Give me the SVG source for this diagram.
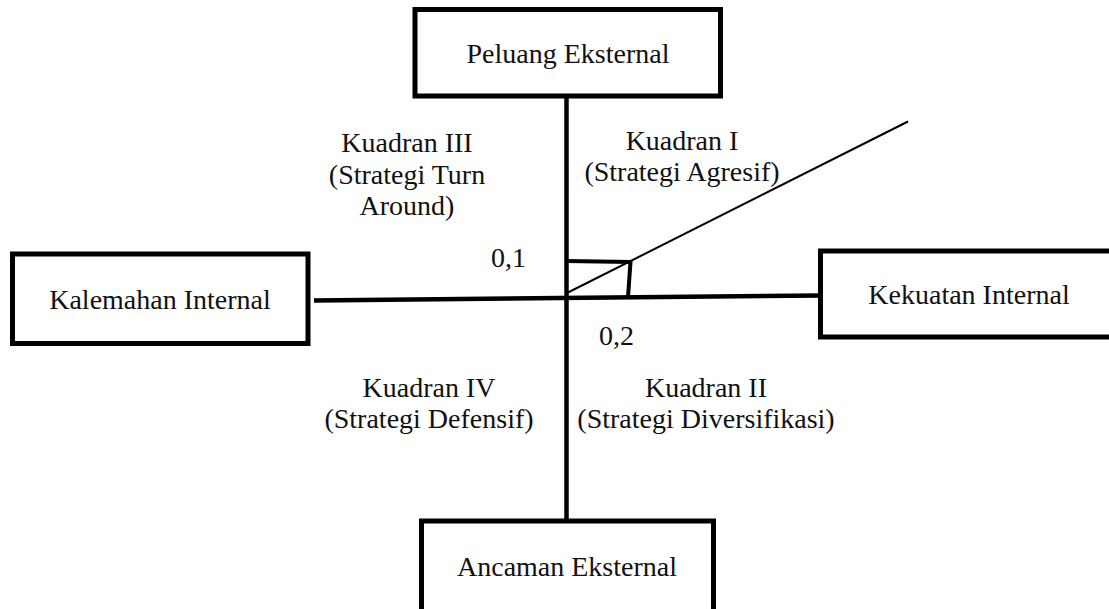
<svg xmlns="http://www.w3.org/2000/svg" width="1109" height="609" viewBox="0 0 1109 609">
  <style>
    .box { fill: #ffffff; stroke: #000000; stroke-width: 5; }
    .t { font-family: "Liberation Serif", "Times New Roman", serif; font-size: 28px; fill: #111111; text-anchor: middle; }
    .axis { stroke: #000000; stroke-width: 4.5; fill: none; }
    .thin { stroke: #000000; stroke-width: 2; fill: none; }
    .sq { stroke: #000000; stroke-width: 4; fill: none; }
  </style>
  <rect x="0" y="0" width="1109" height="609" fill="#ffffff"/>

  <g id="connectors">
    <line class="axis" x1="566.5" y1="96" x2="566.5" y2="521"/>
    <line class="axis" x1="314" y1="300.5" x2="821" y2="295.5"/>
    <polyline class="sq" points="566,261 630.5,262 628,297"/>
    <line class="thin" x1="566" y1="293.5" x2="908" y2="121.5"/>
  </g>

  <g id="node-peluang">
    <rect class="box" x="415" y="9.5" width="305.5" height="86.5"/>
    <text class="t" x="568" y="63">Peluang Eksternal</text>
  </g>

  <g id="node-kelemahan">
    <rect class="box" x="12.5" y="254" width="295.5" height="89.5"/>
    <text class="t" x="160" y="309">Kalemahan Internal</text>
  </g>

  <g id="node-kekuatan">
    <rect class="box" x="820.5" y="251" width="300" height="86"/>
    <text class="t" x="969" y="304">Kekuatan Internal</text>
  </g>

  <g id="node-ancaman">
    <rect class="box" x="421.5" y="521" width="292" height="100"/>
    <text class="t" x="567" y="576">Ancaman Eksternal</text>
  </g>

  <g id="labels">
    <text class="t" x="682" y="150">Kuadran I</text>
    <text class="t" x="682" y="181">(Strategi Agresif)</text>

    <text class="t" x="407" y="152">Kuadran III</text>
    <text class="t" x="407" y="184">(Strategi Turn</text>
    <text class="t" x="407" y="215">Around)</text>

    <text class="t" x="508.5" y="267">0,1</text>
    <text class="t" x="616.5" y="345">0,2</text>

    <text class="t" x="429" y="397">Kuadran IV</text>
    <text class="t" x="429" y="428">(Strategi Defensif)</text>

    <text class="t" x="706" y="397">Kuadran II</text>
    <text class="t" x="706" y="428">(Strategi Diversifikasi)</text>
  </g>
</svg>
